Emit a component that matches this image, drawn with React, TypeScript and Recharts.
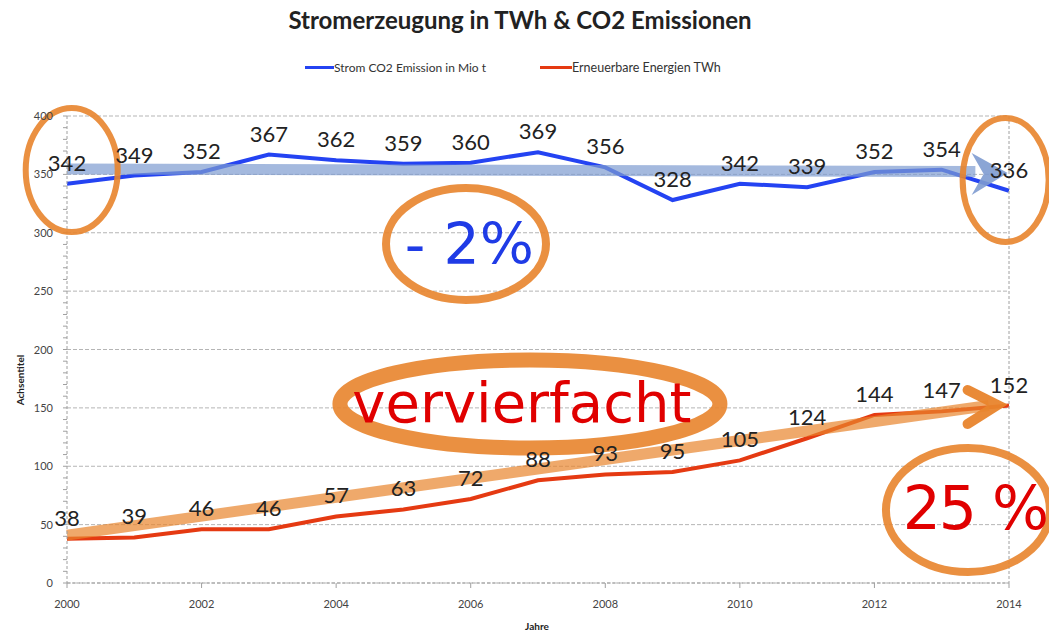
import { LineChart, Line, XAxis, YAxis, CartesianGrid, LabelList, ReferenceLine, ReferenceDot } from 'recharts'

const years = [2000, 2001, 2002, 2003, 2004, 2005, 2006, 2007, 2008, 2009, 2010, 2011, 2012, 2013, 2014]
const co2Emission = [342, 349, 352, 367, 362, 359, 360, 369, 356, 328, 342, 339, 352, 354, 336]
const renewables = [38, 39, 46, 46, 57, 63, 72, 88, 93, 95, 105, 124, 144, 147, 152]
const seriesNames = ['Strom CO2 Emission in Mio t', 'Erneuerbare Energien TWh']
const yearTicks = [2000, 2002, 2004, 2006, 2008, 2010, 2012, 2014]
const gridValues = [0, 50, 100, 150, 200, 250, 300, 350, 400]
const minorTicks = Array.from({ length: 41 }, (_, i) => i * 10)

const data = years.map((year, i) => ({ year, co2: co2Emission[i], ee: renewables[i] }))

const COLORS = {
    co2: '#2443f2',
    ee: '#e53a12',
    marker: '#e8842c',   // hand drawn orange
    arrow: '#7e9bd0',
    axis: '#a0a0a0',
}
const FONT = 'Lato, "Open Sans", sans-serif'
const BIG = '"DejaVu Sans", sans-serif'

function ValueTick(props: any) {
    const { x, y, payload, textAnchor } = props
    if (payload.value % 50 !== 0) return <g />
    return (
        <text x={x} y={y} dy={4} textAnchor={textAnchor} fontSize={11} fill="#444" fontFamily={FONT}>
            {payload.value}
        </text>
    )
}

const ellipse = (rx: number, ry: number, sw: number) => (p: any) => (
    <ellipse cx={p.cx} cy={p.cy} rx={rx} ry={ry} fill="none" stroke={COLORS.marker} strokeWidth={sw} strokeOpacity={0.9} />
)

const chevron = (color: string, sw: number, up: number, down: number, back: number, opacity: number) => (p: any) => (
    <polyline
        points={`${p.cx - back},${p.cy - up} ${p.cx},${p.cy} ${p.cx - back},${p.cy + down}`}
        fill="none"
        stroke={color}
        strokeWidth={sw}
        strokeOpacity={opacity}
        strokeLinecap="round"
        strokeLinejoin="miter"
    />
)

// filled, notched arrow head
const arrowHead = (color: string, opacity: number) => (p: any) => (
    <polygon
        points={`${p.cx - 36},${p.cy - 20} ${p.cx},${p.cy} ${p.cx - 36},${p.cy + 22} ${p.cx - 24},${p.cy + 1}`}
        fill={color}
        fillOpacity={opacity}
    />
)

const bigText = (text: string, color: string, size: number, anchor: 'start' | 'middle', spacing = 0) => (p: any) => (
    <text x={p.cx} y={p.cy} textAnchor={anchor} dominantBaseline="central" fontSize={size} fill={color} fontFamily={BIG} letterSpacing={spacing}>
        {text}
    </text>
)

export default function App() {
    return (
        <div style={{ position: 'absolute', left: 0, top: 0, width: 1049, height: 634, background: '#fff', overflow: 'hidden' }}>
            <div style={{ position: 'absolute', top: 5, width: 1040, textAlign: 'center', fontFamily: FONT, fontWeight: 700, fontSize: 24, color: '#222' }}>
                Stromerzeugung in TWh &amp; CO2 Emissionen
            </div>
            <div style={{ position: 'absolute', top: 60, left: 305, display: 'flex', alignItems: 'center', fontFamily: FONT, fontSize: 12, color: '#333' }}>
                <span style={{ display: 'inline-block', width: 29, height: 3, background: COLORS.co2 }} />
                <span>{seriesNames[0]}</span>
            </div>
            <div style={{ position: 'absolute', top: 60, left: 540, display: 'flex', alignItems: 'center', fontFamily: FONT, fontSize: 12.5, color: '#333' }}>
                <span style={{ display: 'inline-block', width: 32, height: 3, background: COLORS.ee }} />
                <span>{seriesNames[1]}</span>
            </div>
            <div style={{ position: 'absolute', left: 20, top: 380, transform: 'translate(-50%, -50%) rotate(-90deg)', fontFamily: FONT, fontWeight: 700, fontSize: 10, color: '#222' }}>
                Achsentitel
            </div>
            <div style={{ position: 'absolute', left: 537, top: 626, transform: 'translate(-50%, -50%)', fontFamily: FONT, fontWeight: 700, fontSize: 10, color: '#222' }}>
                Jahre
            </div>
            <LineChart width={1049} height={634} data={data} margin={{ top: 116, right: 5, left: 27, bottom: 21 }} style={{ position: 'absolute', left: 0, top: 0 }}>
                <CartesianGrid vertical={false} yAxisId="left" horizontalValues={gridValues} stroke="#b5b5b5" strokeDasharray="4 2" />
                <XAxis
                    dataKey="year"
                    type="number"
                    domain={[2000, 2014]}
                    ticks={yearTicks}
                    height={30}
                    tickSize={5}
                    tickMargin={12}
                    axisLine={{ stroke: COLORS.axis, strokeDasharray: '3 2' }}
                    tickLine={{ stroke: COLORS.axis }}
                    tick={{ fontSize: 11, fill: '#444', fontFamily: FONT }}
                />
                <YAxis
                    yAxisId="left"
                    domain={[0, 400]}
                    ticks={minorTicks}
                    interval={0}
                    width={40}
                    tickSize={4}
                    tickMargin={10}
                    axisLine={{ stroke: COLORS.axis, strokeDasharray: '3 2' }}
                    tickLine={{ stroke: COLORS.axis }}
                    tick={<ValueTick />}
                />
                <YAxis
                    yAxisId="right"
                    orientation="right"
                    domain={[0, 400]}
                    ticks={minorTicks}
                    interval={0}
                    width={35}
                    tickSize={4}
                    tickMargin={3}
                    axisLine={{ stroke: COLORS.axis, strokeDasharray: '3 2' }}
                    tickLine={{ stroke: COLORS.axis }}
                    tick={<ValueTick />}
                />
                <Line yAxisId="left" type="linear" dataKey="co2" name={seriesNames[0]} stroke={COLORS.co2} strokeWidth={4} dot={false} isAnimationActive={false}>
                    <LabelList dataKey="co2" position="top" offset={13} fill="#222" fontSize={22} fontFamily={FONT} />
                </Line>
                <Line yAxisId="left" type="linear" dataKey="ee" name={seriesNames[1]} stroke={COLORS.ee} strokeWidth={4} dot={false} isAnimationActive={false}>
                    <LabelList dataKey="ee" position="top" offset={13} fill="#222" fontSize={22} fontFamily={FONT} />
                </Line>

                {/* hand drawn annotations */}
                <ReferenceLine yAxisId="left" segment={[{ x: 2000, y: 354.6 }, { x: 2013.5, y: 352.5 }]} stroke={COLORS.arrow} strokeWidth={11} strokeOpacity={0.7} ifOverflow="visible" />
                <ReferenceDot yAxisId="left" x={2013.98} y={351.2} r={1} ifOverflow="visible" shape={arrowHead(COLORS.arrow, 0.9)} />
                <ReferenceLine yAxisId="left" segment={[{ x: 2000, y: 41 }, { x: 2013.7, y: 152 }]} stroke={COLORS.marker} strokeWidth={11} strokeOpacity={0.7} ifOverflow="visible" />
                <ReferenceDot yAxisId="left" x={2013.83} y={152.5} r={1} ifOverflow="visible" shape={chevron(COLORS.marker, 10, 15, 19, 30, 0.95)} />

                <ReferenceDot yAxisId="left" x={2000.07} y={353.7} r={1} ifOverflow="visible" shape={ellipse(46, 62, 6)} />
                <ReferenceDot yAxisId="left" x={2013.95} y={345.2} r={1} ifOverflow="visible" shape={ellipse(43, 62, 6)} />
                <ReferenceDot yAxisId="left" x={2005.93} y={290.4} r={1} ifOverflow="visible" shape={ellipse(80, 56, 8)} />
                <ReferenceDot yAxisId="left" x={2006.88} y={153.3} r={1} ifOverflow="visible" shape={ellipse(190, 44, 15)} />
                <ReferenceDot yAxisId="left" x={2013.39} y={62.5} r={1} ifOverflow="visible" shape={ellipse(82, 62, 8)} />

                <ReferenceDot yAxisId="left" x={2005.02} y={290} r={1} ifOverflow="visible" shape={bigText('- 2%', '#1f3be6', 57, 'start')} />
                <ReferenceDot yAxisId="left" x={2006.76} y={155} r={1} ifOverflow="visible" shape={bigText('vervierfacht', '#e00000', 56, 'middle')} />
                <ReferenceDot yAxisId="left" x={2012.42} y={64} r={1} ifOverflow="visible" shape={bigText('25 %', '#e00000', 60, 'start', -2)} />
            </LineChart>
        </div>
    )
}
